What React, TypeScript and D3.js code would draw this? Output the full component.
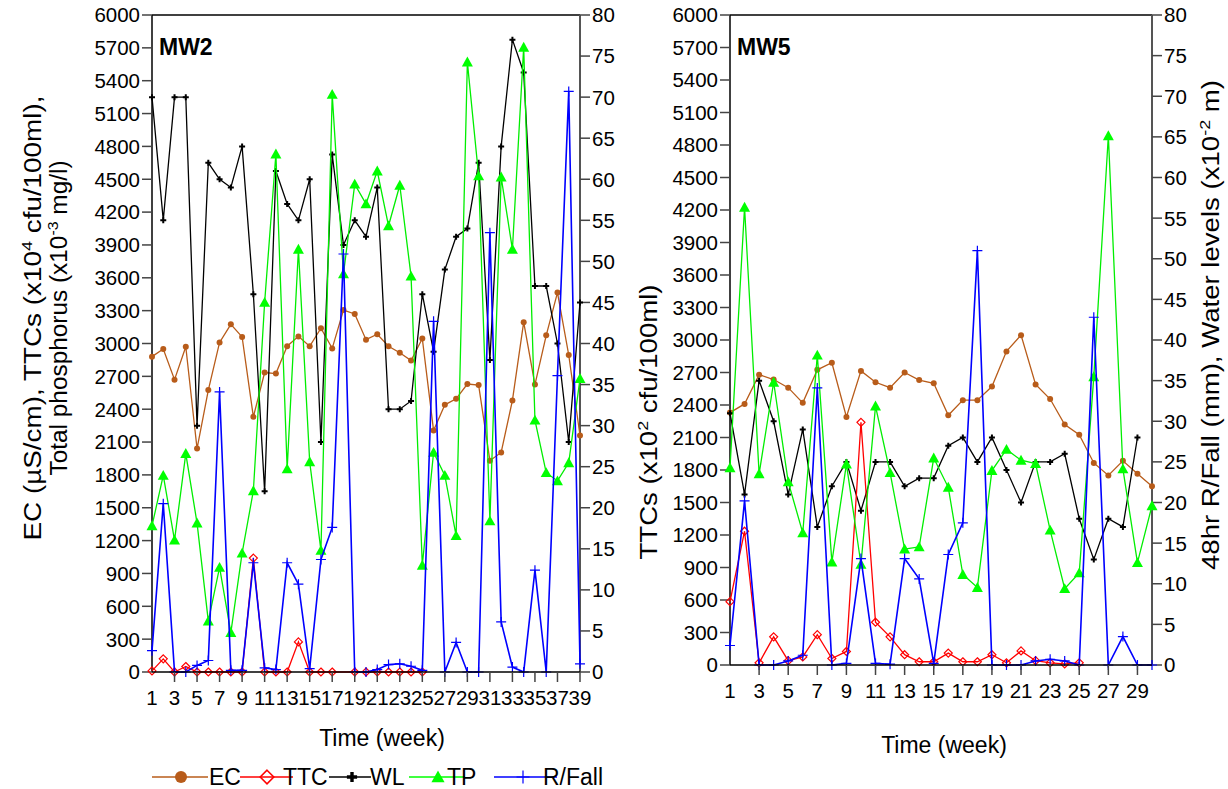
import React from "react";
import * as d3 from "d3";

// ---- MW2 (weeks 1–39) ----
const ecMW2 = [2880, 2950, 2670, 2970, 2040, 2575, 3010, 3175, 3060, 2330, 2735, 2725, 2975, 3065, 2975, 3140, 2955, 3305, 3270, 3035, 3085, 2975, 2915, 2845, 3045, 2205, 2440, 2495, 2630, 2620, 1930, 2005, 2480, 3195, 2625, 3075, 3465, 2895, 2160];
const ttcMW2: (number | null)[] = [10, 120, 0, 50, 0, 0, 0, 0, 0, 1040, 0, 0, 0, 275, 0, 0, 0, null, 0, 0, 0, 0, 0, 0, 0];
const wlMW2 = [70, 55, 70, 70, 30, 62, 60, 59, 64, 46, 22, 61, 57, 55, 60, 28, 63, 52, 55, 53, 59, 32, 32, 33, 46, 39, 49, 53, 54, 62, 38, 64, 77, 73, 47, 47, 40, 28, 45];
const tpMW2 = [1335, 1795, 1205, 1995, 1360, 465, 955, 360, 1085, 1655, 3375, 4730, 1855, 3860, 1920, 1110, 5275, 3635, 4455, 4275, 4575, 4075, 4445, 3615, 975, 2005, 1795, 1245, 5570, 4530, 1380, 4520, 3860, 5705, 2300, 1820, 1745, 1910, 2680];
const rfMW2 = [2.6, 20.5, 0, 0, 0.8, 1.4, 34.1, 0.2, 0.2, 13.3, 0.5, 0.3, 13.3, 10.7, 0.4, 13.7, 17.6, 50.9, 0, 0, 0.3, 0.9, 1.0, 0.7, 0.2, 42.7, 0, 3.6, 0, 0, 53.5, 6.1, 0.6, 0, 12.4, 0, 36.1, 70.7, 1.0];

// ---- MW5 (weeks 1–30) ----
const ecMW5 = [2330, 2410, 2680, 2635, 2560, 2420, 2725, 2790, 2290, 2715, 2610, 2560, 2700, 2630, 2600, 2305, 2445, 2445, 2570, 2895, 3045, 2590, 2455, 2220, 2125, 1865, 1750, 1885, 1765, 1650];
const ttcMW5: (number | null)[] = [585, 1235, 20, 260, 40, 75, 280, 60, 125, 2240, 395, 260, 95, 30, 30, 110, 30, 30, 95, 20, 130, 40, 20, 10, 20];
const wlMW5 = [31, 21, 35, 30, 21, 29, 17, 22, 25, 19, 25, 25, 22, 23, 23, 27, 28, 25, 28, 24, 20, 25, 25, 26, 18, 13, 18, 17, 28];
const tpMW5 = [1820, 4225, 1765, 2610, 1690, 1220, 2860, 950, 1855, 930, 2390, 1775, 1070, 1090, 1910, 1640, 835, 715, 1795, 1990, 1890, 1860, 1245, 705, 850, 2660, 4885, 1810, 945, 1470];
const rfMW5 = [2.4, 20.2, 0, 0, 0.5, 1.2, 34.1, 0, 0.2, 13.1, 0.2, 0.1, 13.1, 10.6, 0.2, 13.6, 17.5, 51.0, 0, 0, 0, 0.5, 0.7, 0.5, 0, 42.8, 0, 3.5, 0, 0];

// ---- axis ticks ----
const leftTicks = d3.range(0, 6001, 300);
const rightTicks = d3.range(0, 81, 5);
const weekTicksMW2 = d3.range(1, 40, 2);
const weekTicksMW5 = d3.range(1, 30, 2);

const legendItems = ["EC", "TTC", "WL", "TP", "R/Fall"];

const FONT = "Arial, 'Liberation Sans', Helvetica, sans-serif";
const C_EC = "#b85c1a";
const C_TTC = "#ff0000";
const C_WL = "#000000";
const C_TP = "#00ee00";
const C_TPM = "#00ff00";
const C_RF = "#0000ff";

type Marker = "circle" | "diamond" | "plusBold" | "triangle" | "plus";

function MarkerShape({ kind, x, y, color, s = 1 }: { kind: Marker; x: number; y: number; color: string; s?: number }) {
  if (kind === "circle") return <circle cx={x} cy={y} r={3 * s} fill={color} />;
  if (kind === "diamond") {
    const h = 4 * s;
    return <path d={`M${x},${y - h}L${x + h},${y}L${x},${y + h}L${x - h},${y}Z`} fill="none" stroke={color} strokeWidth={1.2 * Math.min(s, 1.3)} />;
  }
  if (kind === "plusBold") {
    const h = 3 * s;
    return <path d={`M${x - h},${y}H${x + h}M${x},${y - h}V${y + h}`} stroke={color} strokeWidth={2 * s} />;
  }
  if (kind === "triangle") {
    const h = 5.5 * s;
    return <path d={`M${x},${y - h}L${x + h},${y + h * 0.8}L${x - h},${y + h * 0.8}Z`} fill={color} />;
  }
  const h = 5 * s;
  return <path d={`M${x - h},${y}H${x + h}M${x},${y - h}V${y + h}`} stroke={color} strokeWidth={1.2} />;
}

type Series = { values: (number | null)[]; axis: "L" | "R"; color: string; markColor: string; marker: Marker; width: number };

type PanelProps = {
  title: string;
  xr: [number, number];
  yr: [number, number];
  maxWeek: number;
  weekTicks: number[];
  series: Series[];
  xLabelY: number;
  xTitle: { x: number; y: number };
};

function Panel({ title, xr, yr, maxWeek, weekTicks, series, xLabelY, xTitle }: PanelProps) {
  const x = d3.scaleLinear().domain([1, maxWeek]).range(xr);
  const yL = d3.scaleLinear().domain([0, 6000]).range(yr);
  const yR = d3.scaleLinear().domain([0, 80]).range(yr);
  const [x0, x1] = xr;
  const [yb, yt] = yr;

  return (
    <g fontFamily={FONT}>
      {/* frame */}
      <line x1={x0} x2={x1} y1={yt} y2={yt} stroke="#000" strokeWidth={1.5} />
      <line x1={x0} x2={x0} y1={yt} y2={yb} stroke="#000" strokeWidth={1.5} />
      <line x1={x1} x2={x1} y1={yt} y2={yb} stroke="#555" strokeWidth={2} />

      {/* left axis */}
      {leftTicks.map((t) => (
        <g key={"l" + t}>
          <line x1={x0 - 10} x2={x0} y1={yL(t)} y2={yL(t)} stroke="#444" strokeWidth={1.5} />
          <text x={x0 - 12} y={yL(t)} dy="0.36em" textAnchor="end" fontSize={20.5} fill="#000">{t}</text>
        </g>
      ))}
      {/* right axis */}
      {rightTicks.map((t) => (
        <g key={"r" + t}>
          <line x1={x1} x2={x1 + 10} y1={yR(t)} y2={yR(t)} stroke="#444" strokeWidth={1.5} />
          <text x={x1 + 12} y={yR(t)} dy="0.36em" textAnchor="start" fontSize={20.5} fill="#000">{t}</text>
        </g>
      ))}

      {/* series */}
      {series.map((s, i) => {
        const pts = s.values
          .map((v, k) => (v == null ? null : ([k + 1, v] as [number, number])))
          .filter((p): p is [number, number] => p !== null);
        const ys = s.axis === "L" ? yL : yR;
        const path = d3.line<[number, number]>().x((d) => x(d[0])).y((d) => ys(d[1]))(pts) || "";
        return (
          <g key={i}>
            <path d={path} fill="none" stroke={s.color} strokeWidth={s.width} strokeLinejoin="miter" />
            {pts.map((p, k) => (
              <MarkerShape key={k} kind={s.marker} x={x(p[0])} y={ys(p[1])} color={s.markColor} />
            ))}
          </g>
        );
      })}

      {/* x axis */}
      <line x1={x0} x2={x1} y1={yb} y2={yb} stroke="#000" strokeWidth={1.5} />
      {weekTicks.map((w) => (
        <g key={"x" + w}>
          {w > 1 && <line x1={x(w)} x2={x(w)} y1={yb} y2={yb + 10} stroke="#444" strokeWidth={1.5} />}
          <text x={x(w)} y={xLabelY} textAnchor="middle" fontSize={20.5} fill="#000">{w}</text>
        </g>
      ))}
      <text x={xTitle.x} y={xTitle.y} textAnchor="middle" fontSize={23} fill="#000">Time (week)</text>

      <text x={x0 + 7} y={55} fontSize={23} fontWeight="bold" fill="#000">{title}</text>
    </g>
  );
}

function makeSeries(ec: number[], ttc: (number | null)[], wl: number[], tp: number[], rf: number[]): Series[] {
  return [
    { values: ec, axis: "L", color: C_EC, markColor: C_EC, marker: "circle", width: 1.3 },
    { values: wl, axis: "R", color: C_WL, markColor: C_WL, marker: "plusBold", width: 1.3 },
    { values: ttc, axis: "L", color: C_TTC, markColor: C_TTC, marker: "diamond", width: 1.3 },
    { values: tp, axis: "L", color: C_TP, markColor: C_TPM, marker: "triangle", width: 1.3 },
    { values: rf, axis: "R", color: C_RF, markColor: C_RF, marker: "plus", width: 1.6 },
  ];
}

const legendLayout: { marker: Marker; color: string; line: [number, number]; mx: number; tx: number; s: number }[] = [
  { marker: "circle", color: C_EC, line: [152, 208], mx: 181, tx: 209, s: 2 },
  { marker: "diamond", color: C_TTC, line: [240, 293], mx: 267, tx: 283, s: 1.7 },
  { marker: "plusBold", color: C_WL, line: [329, 371], mx: 352, tx: 370, s: 1.7 },
  { marker: "triangle", color: C_TPM, line: [409, 465], mx: 438, tx: 447, s: 1.2 },
  { marker: "plus", color: C_RF, line: [494, 557], mx: 523, tx: 543, s: 1.3 },
];

export default function App() {
  const legendY = 777;
  return (
    <svg width={1228} height={789} style={{ position: "absolute", left: 0, top: 0, background: "#fff" }} fontFamily={FONT}>
      <rect width={1228} height={789} fill="#fff" />
      <Panel
        title="MW2"
        xr={[152, 580]}
        yr={[672, 15]}
        maxWeek={39}
        weekTicks={weekTicksMW2}
        series={makeSeries(ecMW2, ttcMW2, wlMW2, tpMW2, rfMW2)}
        xLabelY={705}
        xTitle={{ x: 382, y: 746 }}
      />
      <Panel
        title="MW5"
        xr={[730, 1152]}
        yr={[665, 15]}
        maxWeek={30}
        weekTicks={weekTicksMW5}
        series={makeSeries(ecMW5, ttcMW5, wlMW5, tpMW5, rfMW5)}
        xLabelY={698}
        xTitle={{ x: 944, y: 753 }}
      />

      {/* left y-axis title (MW2) */}
      <g transform="translate(41,318) rotate(-90)">
        <text textAnchor="middle" fontSize={23} textLength={445} lengthAdjust="spacingAndGlyphs">
          EC (µS/cm), TTCs (x10<tspan dy={-9} fontSize={15}>4</tspan><tspan dy={9}> cfu/100ml),</tspan>
        </text>
      </g>
      <g transform="translate(67,318) rotate(-90)">
        <text textAnchor="middle" fontSize={23} textLength={315} lengthAdjust="spacingAndGlyphs">
          Total phosphorus (x10<tspan dy={-9} fontSize={15}>-3</tspan><tspan dy={9}> mg/l)</tspan>
        </text>
      </g>

      {/* left y-axis title (MW5) */}
      <g transform="translate(657,422) rotate(-90)">
        <text textAnchor="middle" fontSize={23} textLength={275} lengthAdjust="spacingAndGlyphs">
          TTCs (x10<tspan dy={-9} fontSize={15}>2</tspan><tspan dy={9}> cfu/100ml)</tspan>
        </text>
      </g>

      {/* right y-axis title (MW5) */}
      <g transform="translate(1219,325) rotate(-90)">
        <text textAnchor="middle" fontSize={23} textLength={490} lengthAdjust="spacingAndGlyphs">
          48hr R/Fall (mm), Water levels (x10<tspan dy={-9} fontSize={15}>-2</tspan><tspan dy={9}> m)</tspan>
        </text>
      </g>

      {/* legend */}
      {legendLayout.map((l, i) => (
        <g key={i}>
          <line x1={l.line[0]} x2={l.line[1]} y1={legendY} y2={legendY} stroke={l.color} strokeWidth={1.3} />
          <MarkerShape kind={l.marker} x={l.mx} y={legendY} color={l.color} s={l.s} />
          <text x={l.tx} y={legendY + 8} fontSize={23} fill="#000">{legendItems[i]}</text>
        </g>
      ))}
    </svg>
  );
}
